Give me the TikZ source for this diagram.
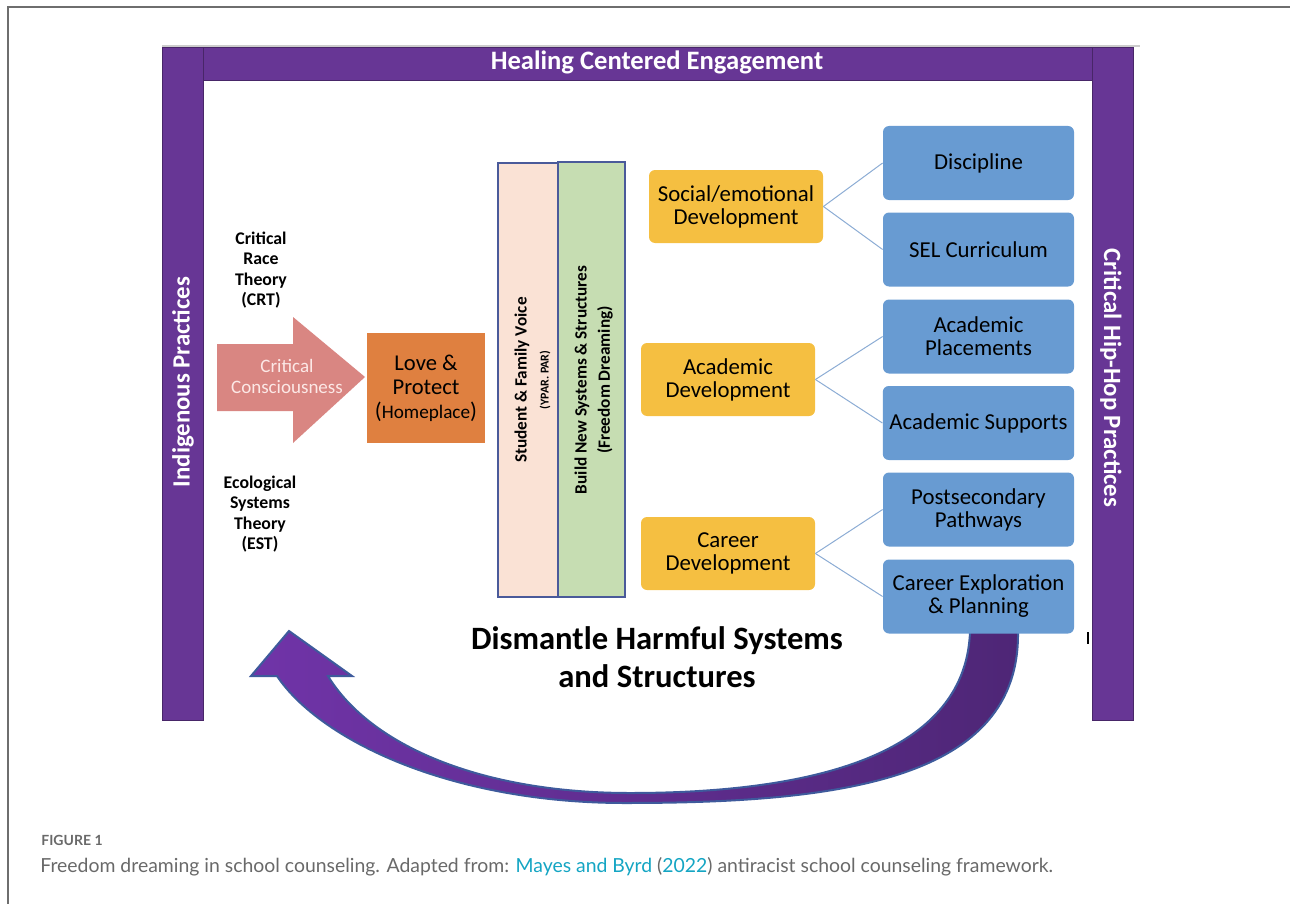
\documentclass[tikz,border=0pt]{standalone}
\usepackage{fontspec}
\setmainfont{Carlito}
\newfontfamily\capfont{Lato}
\usetikzlibrary{positioning}

\definecolor{bandpurple}{RGB}{103,54,149}
\definecolor{framegray}{RGB}{110,110,110}
\definecolor{pinkarrow}{RGB}{217,134,130}
\definecolor{pinktext}{RGB}{252,232,230}
\definecolor{homeorange}{RGB}{223,128,64}
\definecolor{peach}{RGB}{250,226,213}
\definecolor{sage}{RGB}{198,221,178}
\definecolor{baredge}{RGB}{74,90,154}
\definecolor{goldbox}{RGB}{245,191,65}
\definecolor{bluebox}{RGB}{104,155,210}
\definecolor{linkblue}{RGB}{140,172,212}
\definecolor{arrowleft}{RGB}{112,52,168}
\definecolor{arrowright}{RGB}{78,38,118}
\definecolor{arrowedge}{RGB}{62,90,156}
\definecolor{capgray}{RGB}{105,105,105}
\definecolor{capteal}{RGB}{20,165,195}

\begin{document}
\begin{tikzpicture}[x=0.5pt,y=-0.5pt,
  bar/.style={fill=bandpurple,draw=bandpurple!70!black,line width=0.4pt},
  bartext/.style={text=white,font=\bfseries\fontsize{12.4}{14}\selectfont},
  theory/.style={align=center,font=\bfseries\fontsize{8.9}{10.2}\selectfont},
  strip/.style={draw=baredge,line width=0.6pt},
  striptext/.style={rotate=90,font=\bfseries\fontsize{8.6}{10}\selectfont},
  goal/.style={fill=goldbox,rounded corners=3pt,minimum width=87pt,minimum height=36.5pt,
    align=center,font=\fontsize{11.4}{11.5}\selectfont},
  sub/.style={fill=bluebox,rounded corners=3pt,minimum width=95.5pt,minimum height=37pt,
    align=center,font=\fontsize{11.4}{11.5}\selectfont},
  link/.style={draw=linkblue,line width=0.5pt}]
  \useasboundingbox (0,0) rectangle (1290,904);

  % Ramme
  \draw[framegray,line width=0.6pt] (8,904) -- (8,7) -- (1290,7);

  % Lilla bånd
  \draw[gray!40,line width=0.6pt] (162,46) -- (1140,46);
  \path[bar] (162,47) rectangle (203,720);
  \path[bar] (1092,47) rectangle (1133,720);
  \path[bar] (203,47) rectangle (1092,80);
  \node[bartext,font=\bfseries\fontsize{13.3}{15}\selectfont] (heal) at (657,62) {Healing Centered Engagement};
  \node[bartext,rotate=90] (indig) at (183,382) {Indigenous Practices};
  \node[bartext,rotate=-90] (hiphop) at (1111,378) {Critical Hip-Hop Practices};

  % Teorier
  \node[theory] (crt) at (261,270) {Critical\\Race\\Theory\\(CRT)};
  \node[theory] (est) at (260,514) {Ecological\\Systems\\Theory\\(EST)};

  % Pil og hjemsted
  \fill[pinkarrow] (217,344) -- (293,344) -- (293,317) -- (365,377)
    -- (293,443) -- (293,411) -- (217,411) -- cycle;
  \node[align=center,text=pinktext,font=\fontsize{9.5}{10.5}\selectfont] (cc) at (287,376)
    {Critical\\Consciousness};
  \node[fill=homeorange,minimum width=59pt,minimum height=55pt,align=center,
    font=\fontsize{11.3}{12}\selectfont] (home) at (426,388)
    {Love \&\\Protect\\({\fontsize{9.6}{12}\selectfont Homeplace})};

  % Stolper
  \draw[strip,fill=peach] (498,163) rectangle (558,597);
  \draw[strip,fill=sage] (558,162) rectangle (625,597);
  \node[striptext] (voice) at (522,380) {Student \& Family Voice};
  \node[striptext,font=\bfseries\fontsize{6}{7}\selectfont] (ypar) at (545,380) {(YPAR. PAR)};
  \node[striptext] (build) at (582,380) {Build New Systems \& Structures};
  \node[striptext] (dream) at (605,380) {(Freedom Dreaming)};

  % Stor buet pil
  \path[draw=arrowedge,line width=1pt,left color=arrowleft,right color=arrowright]
    (1018,632) .. controls (1020,780) and (840,803) .. (625,803)
    .. controls (450,803) and (320,740) .. (277,676)
    -- (251,676) -- (289,631) -- (352,676) -- (328,676)
    .. controls (370,745) and (480,793) .. (630,793)
    .. controls (800,793) and (965,760) .. (970,632) -- cycle;

  % Utvikling
  \node[goal] (soc) at (736,206.5) {Social/emotional\\Development};
  \node[goal] (acad) at (728,379.5) {Academic\\Development};
  \node[goal] (car) at (728,553.5) {Career\\Development};

  \foreach \nm/\yy/\txt in {disc/163/Discipline, sel/249.5/SEL Curriculum,
      place/336.5/{Academic\\Placements}, supp/423/Academic Supports,
      post/509.5/{Postsecondary\\Pathways}, expl/596.5/{Career Exploration\\\& Planning}} {
    \node[sub] (\nm) at (978.5,\yy) {\txt};
  }
  \foreach \a/\b in {soc/disc,soc/sel,acad/place,acad/supp,car/post,car/expl} {
    \draw[link] (\a.east) -- (\b.west);
  }

  % Nedbygging
  \node[align=center,font=\bfseries\fontsize{16.3}{19}\selectfont] (dismantle) at (657,657)
    {Dismantle Harmful Systems\\and Structures};
  \draw[line width=0.6pt] (1088,632) -- (1088,644);

  % Figurtekst
  \node[anchor=base west,inner sep=0pt,text=capgray,font=\capfont\bfseries\fontsize{7}{8}\selectfont]
    (fig) at (41,845) {FIGURE 1};
  \node[anchor=base west,inner sep=0pt,text=capgray,font=\capfont\fontsize{9.7}{11}\selectfont]
    (cap) at (40,872) {Freedom dreaming in school counseling. Adapted from:
    \textcolor{capteal}{Mayes and Byrd} (\textcolor{capteal}{2022}) antiracist school counseling framework.};
\end{tikzpicture}
\end{document}
